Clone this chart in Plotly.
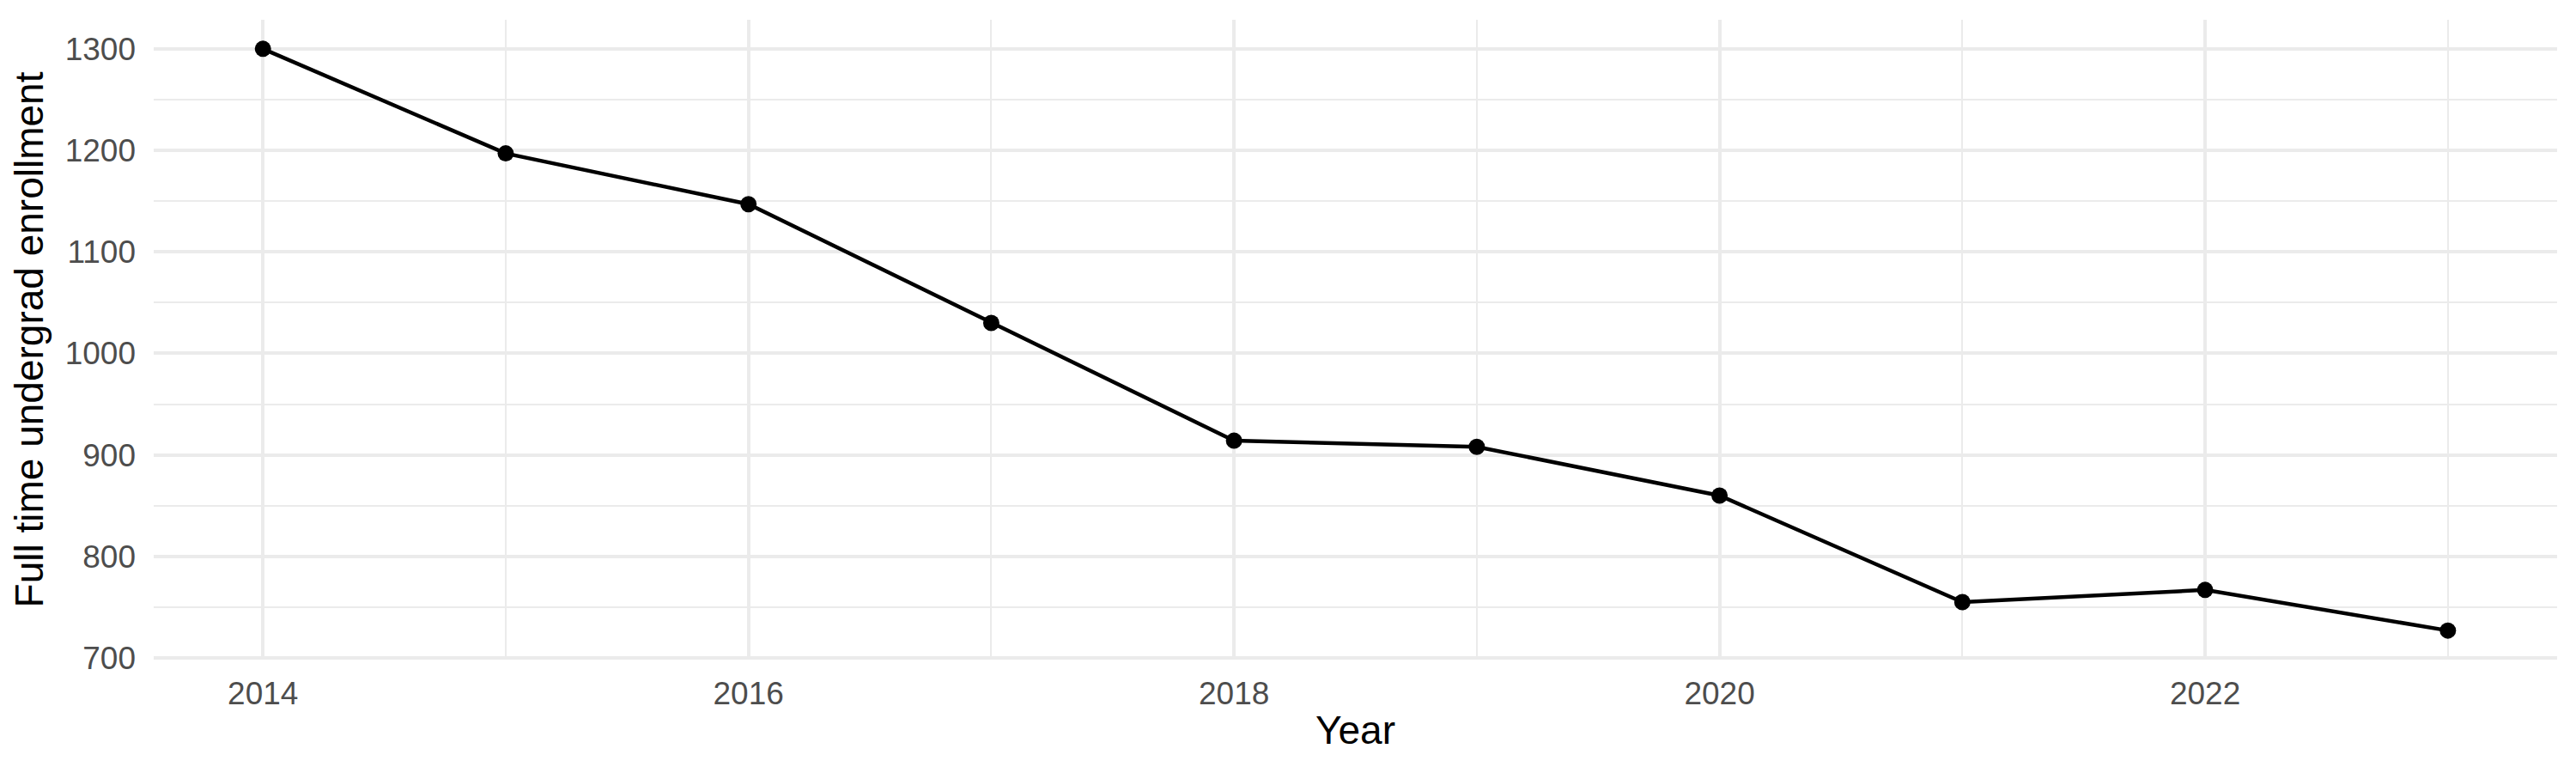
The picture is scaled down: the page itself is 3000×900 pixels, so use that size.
import plotly.graph_objects as go

years = [2014, 2015, 2016, 2017, 2018, 2019, 2020, 2021, 2022, 2023]
enrollment = [1300, 1197, 1147, 1030, 914, 908, 860, 755, 767, 727]

x_ticks = [2014, 2016, 2018, 2020, 2022]
y_ticks = [700, 800, 900, 1000, 1100, 1200, 1300]

fig = go.Figure()
fig.add_trace(go.Scatter(
    x=years, y=enrollment, mode="lines+markers",
    line=dict(color="black", width=4.5),
    marker=dict(color="black", size=19),
    showlegend=False,
))

grid = "#EBEBEB"
# page body has an 8px margin, so the figure is a bit smaller than the window
fig.update_layout(
    width=2992, height=892,
    plot_bgcolor="white", paper_bgcolor="white",
    margin=dict(l=171, r=22, t=15, b=132),
    font=dict(family="Liberation Sans, Arial, sans-serif", color="black"),
)
fig.update_xaxes(
    range=[2013.55, 2023.45],
    tickvals=x_ticks, ticktext=[str(t) for t in x_ticks],
    tickfont=dict(size=37, color="#4D4D4D"),
    ticks="", ticklabelstandoff=14,
    showgrid=True, gridcolor=grid, gridwidth=4,
    minor=dict(dtick=1, tick0=2015, showgrid=True, gridcolor=grid, gridwidth=2),
    zeroline=False, showline=False,
    title=dict(text="Year", font=dict(size=46), standoff=6),
)
fig.update_yaxes(
    range=[698.35, 1328.65],
    tickvals=y_ticks,
    tickfont=dict(size=37, color="#4D4D4D"),
    ticks="", ticklabelstandoff=20,
    showgrid=True, gridcolor=grid, gridwidth=4,
    minor=dict(dtick=50, tick0=750, showgrid=True, gridcolor=grid, gridwidth=2),
    zeroline=False, showline=False,
    title=dict(text="Full time undergrad enrollment", font=dict(size=46), standoff=14),
)

fig.write_html("out.html")
